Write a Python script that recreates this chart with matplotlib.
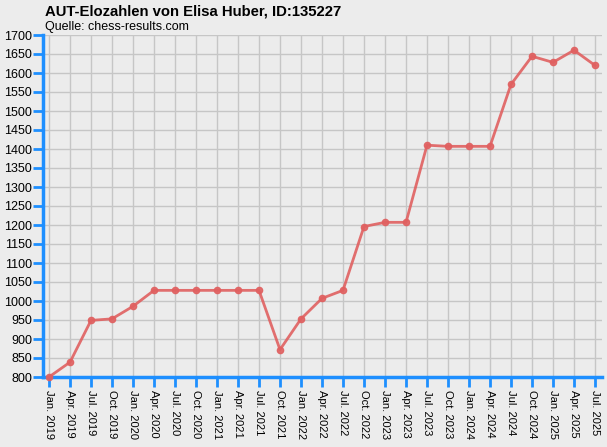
import numpy as np
import matplotlib
matplotlib.use("Agg")
import matplotlib.pyplot as plt

plt.rcParams['font.family'] = ['Liberation Sans', 'DejaVu Sans']

monate = ["Jan. 2019", "Apr. 2019", "Jul. 2019", "Oct. 2019",
          "Jan. 2020", "Apr. 2020", "Jul. 2020", "Oct. 2020",
          "Jan. 2021", "Apr. 2021", "Jul. 2021", "Oct. 2021",
          "Jan. 2022", "Apr. 2022", "Jul. 2022", "Oct. 2022",
          "Jan. 2023", "Apr. 2023", "Jul. 2023", "Oct. 2023",
          "Jan. 2024", "Apr. 2024", "Jul. 2024", "Oct. 2024",
          "Jan. 2025", "Apr. 2025", "Jul. 2025"]
elo = [800, 839, 949, 953, 986, 1028, 1028, 1028, 1028, 1028, 1028, 872,
       953, 1007, 1028, 1196, 1207, 1207, 1410, 1407, 1407, 1407, 1570,
       1644, 1628, 1660, 1620]
y_ticks = list(range(800, 1701, 50))

bg = "#ececec"
blau = "#1e8fff"

fig = plt.figure(figsize=(6.07, 4.47), dpi=100, facecolor=bg)
ax = fig.add_axes([43/607, 1 - 377/447, 559/607, 342/447])
ax.set_facecolor(bg)

x = np.arange(len(elo))
ax.plot(x, elo, color="#e06060", lw=2, marker="o", ms=4.5, alpha=0.9, zorder=3, clip_on=False)

ax.set_xlim(-6/21, 26 + 7/21)
ax.set_ylim(800, 1700)
ax.set_xticks(x)
ax.set_xticklabels(monate, rotation=270, fontsize=8)
ax.set_yticks(y_ticks)
ax.set_yticklabels([str(v) for v in y_ticks], fontsize=9)
ax.grid(True, color="#c6c6c6", lw=1)
ax.set_axisbelow(True)

for s in ["top", "right"]:
    ax.spines[s].set_visible(False)
for s in ["left", "bottom"]:
    ax.spines[s].set_color(blau)
    ax.spines[s].set_linewidth(2.5)
ax.tick_params(axis="both", colors=blau, length=7, width=2, labelcolor="black")
ax.tick_params(axis="x", pad=2)
ax.tick_params(axis="y", pad=1)

fig.text(45/607, 1 - 12/447, "AUT-Elozahlen von Elisa Huber, ID:135227",
         fontsize=10.7, fontweight="bold", va="center")
fig.text(45/607, 1 - 27/447, "Quelle: chess-results.com", fontsize=9, va="center")

fig.savefig("out.png", dpi=100, facecolor=bg)
